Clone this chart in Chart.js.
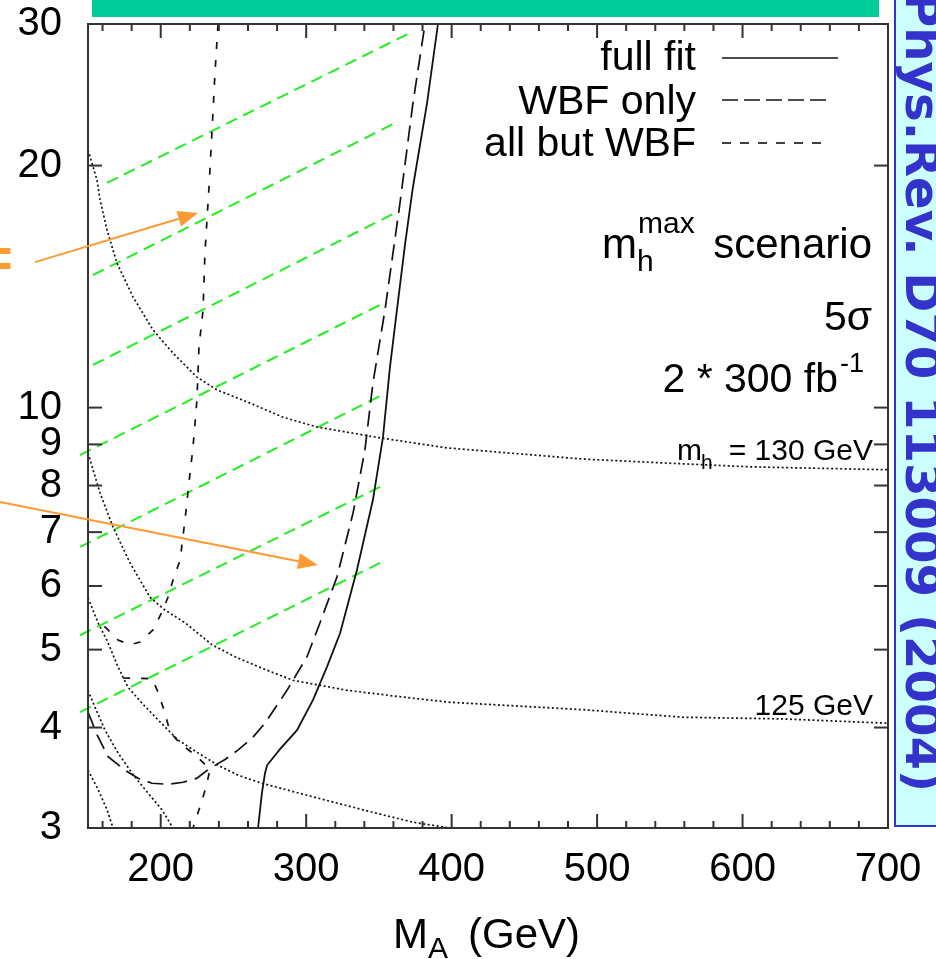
<!DOCTYPE html>
<html>
<head>
<meta charset="utf-8">
<script src="https://cdn.jsdelivr.net/npm/chart.js@4.4.1/dist/chart.umd.min.js"></script>
<style>
  html, body { margin: 0; padding: 0; background: #fff; }
  #wrap { width: 936px; height: 959px; position: relative; }
</style>
</head>
<body>
<div id="wrap"><canvas id="chart"></canvas></div>
<script>
// ---- axis ticks ----
const xLabelTicks = [200, 300, 400, 500, 600, 700];
const xMinorTicks = [160, 180, 220, 240, 260, 280, 320, 340, 360, 380, 420, 440, 460, 480,
                     520, 540, 560, 580, 620, 640, 660, 680];
const yTicks = [3, 4, 5, 6, 7, 8, 9, 10, 20, 30];

// ---- full fit (solid) ----
const fullFitX = [266.9, 269.6, 271.7, 273.1, 282.0, 293.7, 304.7, 314.3, 323.3, 328.8, 334.9,
                  345.9, 352.8, 357.6, 362.4, 367.9, 373.4, 383.1, 390.6];
const fullFitY = [3.0, 3.32, 3.51, 3.59, 3.76, 3.97, 4.33, 4.76, 5.24, 5.71, 6.28,
                  7.68, 9.19, 11.23, 13.23, 15.93, 18.81, 23.92, 30];

// ---- WBF only (long dash) ----
const wbfX = [150, 156.2, 163.8, 175.4, 184.4, 194.0, 205.0, 215.3, 224.9, 233.9, 244.2, 253.1,
              262.8, 271.7, 286.8, 300.6, 309.5, 321.2, 332.2, 340.4, 345.9, 354.2, 364.5, 373.4, 381.7];
const wbfY = [4.18, 3.92, 3.68, 3.54, 3.46, 3.41, 3.40, 3.42, 3.46, 3.56, 3.65, 3.75,
              3.88, 4.05, 4.45, 4.90, 5.40, 6.16, 7.39, 8.86, 10.73, 13.23, 17.97, 23.92, 30];

// ---- all but WBF (short dash), two branches ----
const butWbfX = [239.4, 237.3, 235.3, 233.2, 230.4, 229.1, 226.3, 224.9, 222.2, 219.4, 216.7,
                 213.3, 208.4, 205.0, 200.9, 194.7, 185.8, 178.9, 170.6, 163.8, 158.3];
const butWbfY = [30, 26.09, 22.14, 18.81, 15.57, 13.23, 11.90, 10.22, 8.93, 8.06, 7.25,
                 6.46, 6.10, 5.81, 5.57, 5.29, 5.11, 5.07, 5.14, 5.29, 5.41];
const butWbfLowX = [174.1, 194.0, 198.1, 202.9, 206.4, 213.3, 223.6, 233.9, 231.1, 227.0, 222.2];
const butWbfLowY = [4.61, 4.60, 4.43, 4.17, 3.95, 3.82, 3.70, 3.55, 3.37, 3.19, 3.0];

// ---- m_h contours (dotted) ----
const mh130X = [150, 156.2, 158.3, 163.1, 169.9, 180.9, 194.7, 208.4, 224.9, 238.7, 261.4, 284.1,
                307.4, 350.8, 396.8, 490.3, 548.1, 605.1, 700];
const mh130Y = [20.91, 19.19, 18.12, 16.63, 15.13, 13.73, 12.49, 11.69, 10.91, 10.52, 10.13, 9.73,
                9.46, 9.17, 8.91, 8.63, 8.53, 8.44, 8.37];
const mh125X = [150, 158.3, 167.2, 178.9, 192.6, 202.9, 216.7, 235.3, 251.1, 269.6, 290.9, 328.1,
                373.4, 398.9, 490.3, 559.1, 627.8, 700];
const mh125Y = [8.78, 7.83, 7.10, 6.41, 5.81, 5.60, 5.40, 5.07, 4.90, 4.74, 4.58, 4.45,
                4.35, 4.30, 4.21, 4.12, 4.10, 4.05];
const mh3X = [150, 156.9, 163.8, 170.6, 177.5, 187.1, 198.1, 211.9, 225.6, 239.4, 253.1, 269.6,
              304.7, 339.1, 373.4, 398.9];
const mh3Y = [5.80, 5.40, 5.10, 4.76, 4.49, 4.29, 4.09, 3.86, 3.72, 3.59, 3.49, 3.41,
              3.28, 3.16, 3.05, 3.0];
const mh4X = [150, 154.8, 161.7, 170.6, 180.3, 189.2, 200.9, 208.4];
const mh4Y = [4.45, 4.24, 3.97, 3.72, 3.51, 3.35, 3.16, 3.0];
const mh5X = [150, 156.9, 163.1, 167.2];
const mh5Y = [3.54, 3.35, 3.16, 3.0];

// ---- green hatching (start / end of each stroke) ----
const greenX0 = [163.1, 153.4, 153.4, 144.5, 144.5, 144.5, 144.5];
const greenY0 = [19.03, 14.62, 11.30, 8.73, 6.71, 5.21, 4.18];
const greenX1 = [371.4, 361.1, 361.1, 350.8, 350.8, 350.8, 350.8];
const greenY1 = [29.24, 22.59, 17.46, 13.42, 10.34, 7.97, 6.41];

// ---- orange arrows (data coords: from -> to) ----
const arrowFromX = [113.6, 89.5];
const arrowFromY = [15.17, 7.63];
const arrowToX = [225.6, 308.1];
const arrowToY = [17.46, 6.37];

const FONT = "'Liberation Sans', Arial, sans-serif";
Chart.defaults.font.family = FONT;

function pts(xs, ys) {
  return xs.map((x, i) => ({ x: x, y: ys[i] }));
}

function curve(data, dash, width) {
  return {
    data: data,
    showLine: true,
    borderColor: '#111',
    borderWidth: width || 1.6,
    borderDash: dash,
    pointRadius: 0,
    fill: false,
    tension: 0
  };
}

const datasets = [
  curve(pts(fullFitX, fullFitY), [], 1.8),
  curve(pts(wbfX, wbfY), [16, 8], 1.7),
  curve(pts(butWbfX, butWbfY), [7, 11], 1.7),
  curve(pts(butWbfLowX, butWbfLowY), [7, 11], 1.7),
  curve(pts(mh130X, mh130Y), [2, 2.5], 1.7),
  curve(pts(mh125X, mh125Y), [2, 2.5], 1.7),
  curve(pts(mh3X, mh3Y), [2, 2.5], 1.7),
  curve(pts(mh4X, mh4Y), [2, 2.5], 1.7),
  curve(pts(mh5X, mh5Y), [2, 2.5], 1.7)
];

greenX0.forEach((x0, i) => {
  datasets.push({
    data: [{ x: x0, y: greenY0[i] }, { x: greenX1[i], y: greenY1[i] }],
    showLine: true,
    borderColor: '#22ee22',
    borderWidth: 2,
    borderDash: [12, 7],
    pointRadius: 0,
    clip: { left: 12, top: 0, right: 0, bottom: 0 }
  });
});

// 텍스트 헬퍼
function txt(ctx, s, x, y, size, align, color, weight) {
  ctx.font = (weight || '') + ' ' + size + 'px ' + FONT;
  ctx.fillStyle = color || '#000';
  ctx.textAlign = align || 'left';
  ctx.textBaseline = 'alphabetic';
  ctx.fillText(s, x, y);
}

function arrow(ctx, x0, y0, x1, y1) {
  const ang = Math.atan2(y1 - y0, x1 - x0);
  const len = 20, half = 8;
  const bx = x1 - len * Math.cos(ang), by = y1 - len * Math.sin(ang);
  ctx.strokeStyle = '#ff9933';
  ctx.fillStyle = '#ff9933';
  ctx.lineWidth = 2;
  ctx.setLineDash([]);
  ctx.beginPath(); ctx.moveTo(x0, y0); ctx.lineTo(bx, by); ctx.stroke();
  ctx.beginPath();
  ctx.moveTo(x1, y1);
  ctx.lineTo(bx + half * Math.sin(ang), by - half * Math.cos(ang));
  ctx.lineTo(bx - half * Math.sin(ang), by + half * Math.cos(ang));
  ctx.closePath(); ctx.fill();
}

const decor = {
  id: 'decor',
  beforeDraw(chart) {
    const ctx = chart.ctx;
    ctx.save();
    ctx.fillStyle = '#fff';
    ctx.fillRect(0, 0, chart.width, chart.height);
    ctx.restore();
  },
  afterDraw(chart) {
    const ctx = chart.ctx, a = chart.chartArea;
    const xs = chart.scales.x, ys = chart.scales.y;
    ctx.save();

    // frame
    ctx.strokeStyle = '#333';
    ctx.lineWidth = 2;
    ctx.setLineDash([]);
    ctx.strokeRect(a.left, a.top, a.right - a.left, a.bottom - a.top);

    // inward tick marks
    const tick = (x1, y1, x2, y2) => { ctx.beginPath(); ctx.moveTo(x1, y1); ctx.lineTo(x2, y2); ctx.stroke(); };
    xLabelTicks.concat(xMinorTicks).forEach(v => {
      const px = xs.getPixelForValue(v);
      const len = xLabelTicks.includes(v) ? 14 : 7;
      tick(px, a.bottom, px, a.bottom - len);
      tick(px, a.top, px, a.top + len);
    });
    yTicks.forEach(v => {
      const py = ys.getPixelForValue(v);
      tick(a.left, py, a.left + 14, py);
      tick(a.right, py, a.right - 14, py);
    });

    // legend
    txt(ctx, 'full fit', 696, 70, 41, 'right');
    txt(ctx, 'WBF only', 696, 114, 41, 'right');
    txt(ctx, 'all but WBF', 696, 156, 41, 'right');
    ctx.strokeStyle = '#111';
    ctx.lineWidth = 1.6;
    [[[], 838, 58], [[16, 6], 832, 100], [[9, 9], 828, 143]].forEach(([dash, xe, y]) => {
      ctx.setLineDash(dash);
      ctx.beginPath(); ctx.moveTo(722, y); ctx.lineTo(xe, y); ctx.stroke();
    });
    ctx.setLineDash([]);

    // scenario texts
    txt(ctx, 'm', 602, 258, 42);
    txt(ctx, 'h', 637, 271, 30);
    txt(ctx, 'max', 638, 233, 30);
    txt(ctx, 'scenario', 872, 258, 42, 'right');
    txt(ctx, '5σ', 872, 330, 41, 'right');
    txt(ctx, '2 * 300 fb', 838, 392, 41, 'right');
    txt(ctx, '-1', 840, 372, 27);
    txt(ctx, 'm', 677, 460, 30);
    txt(ctx, 'h', 701, 469, 21);
    txt(ctx, '= 130 GeV', 873, 460, 30, 'right');
    txt(ctx, '125 GeV', 873, 715, 30, 'right');

    // x title
    txt(ctx, 'M', 393, 948, 42);
    txt(ctx, 'A', 428, 958, 30);
    txt(ctx, '(GeV)', 468, 948, 42);

    // orange arrows
    arrowFromX.forEach((x0, i) => {
      arrow(ctx, xs.getPixelForValue(x0), ys.getPixelForValue(arrowFromY[i]),
                 xs.getPixelForValue(arrowToX[i]), ys.getPixelForValue(arrowToY[i]));
    });
    txt(ctx, '=', -20, 277, 56, 'left', '#ff9933', 'bold');

    // top banner
    ctx.fillStyle = '#00cc99';
    ctx.fillRect(92, -2, 787, 19);

    // reference box on the right
    ctx.fillStyle = '#ccffff';
    ctx.fillRect(895, -2, 50, 828);
    ctx.strokeStyle = '#3333cc';
    ctx.lineWidth = 2;
    ctx.strokeRect(895, -2, 50, 828);
    ctx.translate(906, -8);
    ctx.rotate(Math.PI / 2);
    ctx.font = "bold 48px 'DejaVu Sans', sans-serif";
    ctx.fillStyle = '#3333cc';
    ctx.textAlign = 'left';
    ctx.textBaseline = 'alphabetic';
    const ref = 'Phys.Rev. D70 113009 (2004)';
    const w = ctx.measureText(ref).width;
    ctx.scale(800 / w, 1);
    ctx.fillText(ref, 0, 0);

    ctx.restore();
  }
};

new Chart(document.getElementById('chart'), {
  type: 'scatter',
  data: { datasets: datasets },
  options: {
    responsive: true,
    maintainAspectRatio: false,
    animation: false,
    layout: { padding: { top: 24, right: 48, left: 0, bottom: 0 } },
    plugins: { legend: { display: false }, tooltip: { enabled: false } },
    scales: {
      x: {
        type: 'linear', min: 150, max: 700,
        grid: { display: false, drawTicks: false },
        border: { display: false },
        afterBuildTicks: s => { s.ticks = xLabelTicks.map(v => ({ value: v })); },
        afterFit: s => { s.height = 131; s.paddingLeft = 0; s.paddingRight = 0; },
        ticks: { font: { size: 40 }, color: '#000', padding: 18, maxRotation: 0, autoSkip: false }
      },
      y: {
        type: 'logarithmic', min: 3, max: 30,
        grid: { display: false, drawTicks: false },
        border: { display: false },
        afterBuildTicks: s => { s.ticks = yTicks.map(v => ({ value: v })); },
        afterFit: s => { s.width = 88; s.paddingTop = 0; s.paddingBottom = 0; },
        ticks: { font: { size: 40 }, color: '#000', padding: 26, autoSkip: false, callback: v => String(v) }
      }
    }
  },
  plugins: [decor]
});
</script>
</body>
</html>
